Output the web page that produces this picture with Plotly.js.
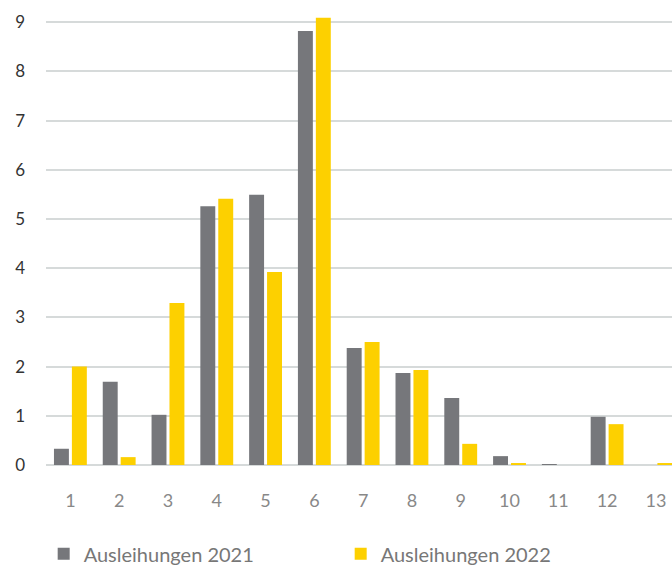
<!DOCTYPE html>
<html><head><meta charset="utf-8">
<script src="https://cdn.plot.ly/plotly-3.0.1.min.js"></script>
<style>html,body{margin:0;padding:0;background:#fff}#c{width:672px;height:566px}</style>
</head><body><div id="c"></div>
<script>
const categories = ['1','2','3','4','5','6','7','8','9','10','11','12','13'];
const series2021 = [0.33, 1.69, 1.02, 5.26, 5.49, 8.82, 2.38, 1.87, 1.36, 0.18, 0.02, 0.98, 0];
const series2022 = [2.0, 0.16, 3.29, 5.41, 3.92, 9.09, 2.5, 1.93, 0.43, 0.04, 0, 0.83, 0.04];
const seriesNames = ['Ausleihungen 2021', 'Ausleihungen 2022'];
const yTicks = [0,1,2,3,4,5,6,7,8,9];

const data = [
  {type:'bar', x:categories, y:series2021, name:seriesNames[0], marker:{color:'#76777b'}},
  {type:'bar', x:categories, y:series2022, name:seriesNames[1], marker:{color:'#fdd000'}}
];
const layout = {
  width:672, height:566,
  margin:{l:46, r:0, t:0, b:101},
  paper_bgcolor:'#fff', plot_bgcolor:'#fff',
  barmode:'group', bargap:0.265, bargroupgap:0.167,
  font:{family:'Lato, "Noto Sans", sans-serif', color:'#555'},
  xaxis:{type:'category', range:[-0.5, 12.33], showgrid:false, zeroline:false, showline:false, automargin:false,
    ticks:'', tickfont:{size:18, color:'#888'}, ticklabelstandoff:23, fixedrange:true},
  yaxis:{range:[0, 9.45], tickvals:yTicks, showgrid:true, gridcolor:'#d6dada', gridwidth:2, automargin:false,
    zeroline:true, zerolinecolor:'#d6dada', zerolinewidth:2, showline:false, ticks:'',
    tickfont:{size:17, color:'#333'}, ticklabelstandoff:20, fixedrange:true},
  showlegend:true,
  legend:{orientation:'h', xref:'container', yref:'container', x:0.065, xanchor:'left', y:0.056, yanchor:'top',
    entrywidth:252, entrywidthmode:'pixels', font:{size:20, color:'#777'},
    itemsizing:'constant', bgcolor:'rgba(0,0,0,0)'}
};
Plotly.newPlot('c', data, layout, {displayModeBar:false, staticPlot:true});
</script></body></html>
